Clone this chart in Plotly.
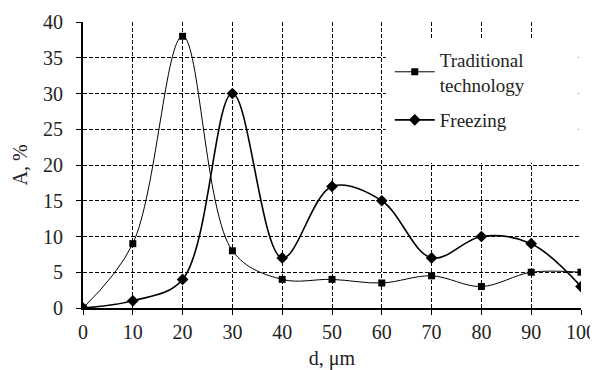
import plotly.graph_objects as go

d_vals = [0, 10, 20, 30, 40, 50, 60, 70, 80, 90, 100]
traditional = [0, 9, 38, 8, 4, 4, 3.5, 4.5, 3, 5, 5]
freezing = [0, 1, 4, 30, 7, 17, 15, 7, 10, 9, 3]
x_ticks = [0, 10, 20, 30, 40, 50, 60, 70, 80, 90, 100]
y_ticks = [0, 5, 10, 15, 20, 25, 30, 35, 40]

FONT = "Liberation Serif"

fig = go.Figure()
fig.add_trace(go.Scatter(
    x=d_vals, y=traditional, name="Traditional<br>technology",
    mode="lines+markers", legendgroup="a",
    line=dict(color="black", width=1, shape="spline", smoothing=1.0),
    marker=dict(symbol="square", size=7, color="black"),
))
fig.add_trace(go.Scatter(
    x=d_vals, y=freezing, name="Freezing",
    mode="lines+markers", legendgroup="b",
    line=dict(color="black", width=1.6, shape="spline", smoothing=1.0),
    marker=dict(symbol="diamond", size=9, color="black"),
))

# white background panel behind the legend (no data falls in this region)
fig.add_shape(type="rect", xref="paper", yref="paper",
              x0=0.608, x1=0.995, y0=0.507, y1=0.937,
              fillcolor="white", line=dict(width=0), layer="above")

fig.update_layout(
    width=590, height=362,
    margin=dict(l=75, r=17, t=14, b=62, autoexpand=False),
    paper_bgcolor="white", plot_bgcolor="white",
    font=dict(family=FONT, size=16, color="#222"),
    showlegend=True,
    legend=dict(
        x=0.616, y=0.935, xanchor="left", yanchor="top",
        bgcolor="rgba(0,0,0,0)", borderwidth=0,
        font=dict(family=FONT, size=19, color="#222"),
        traceorder="grouped", tracegroupgap=8, itemwidth=40,
    ),
)
fig.update_xaxes(
    range=[0, 100], tickvals=x_ticks, ticktext=[str(v) for v in x_ticks],
    showline=True, linecolor="black", linewidth=2,
    ticks="outside", ticklen=5, tickcolor="black", tickwidth=1,
    showgrid=True, gridcolor="black", gridwidth=1, griddash="4px,2px",
    zeroline=False, automargin=False,
    title=dict(text="d, μm", font=dict(family=FONT, size=20), standoff=12),
    tickfont=dict(family=FONT, size=20, color="#222"),
)
fig.update_yaxes(
    range=[0, 40], tickvals=y_ticks, ticktext=[str(v) for v in y_ticks],
    showline=True, linecolor="black", linewidth=2,
    ticks="outside", ticklen=5, tickcolor="black", tickwidth=1,
    showgrid=True, gridcolor="black", gridwidth=1, griddash="4px,2px",
    zeroline=False, automargin=False, ticklabelstandoff=9,
    title=dict(text="A, %", font=dict(family=FONT, size=20), standoff=10),
    tickfont=dict(family=FONT, size=20, color="#222"),
)

fig.write_html("out.html")
